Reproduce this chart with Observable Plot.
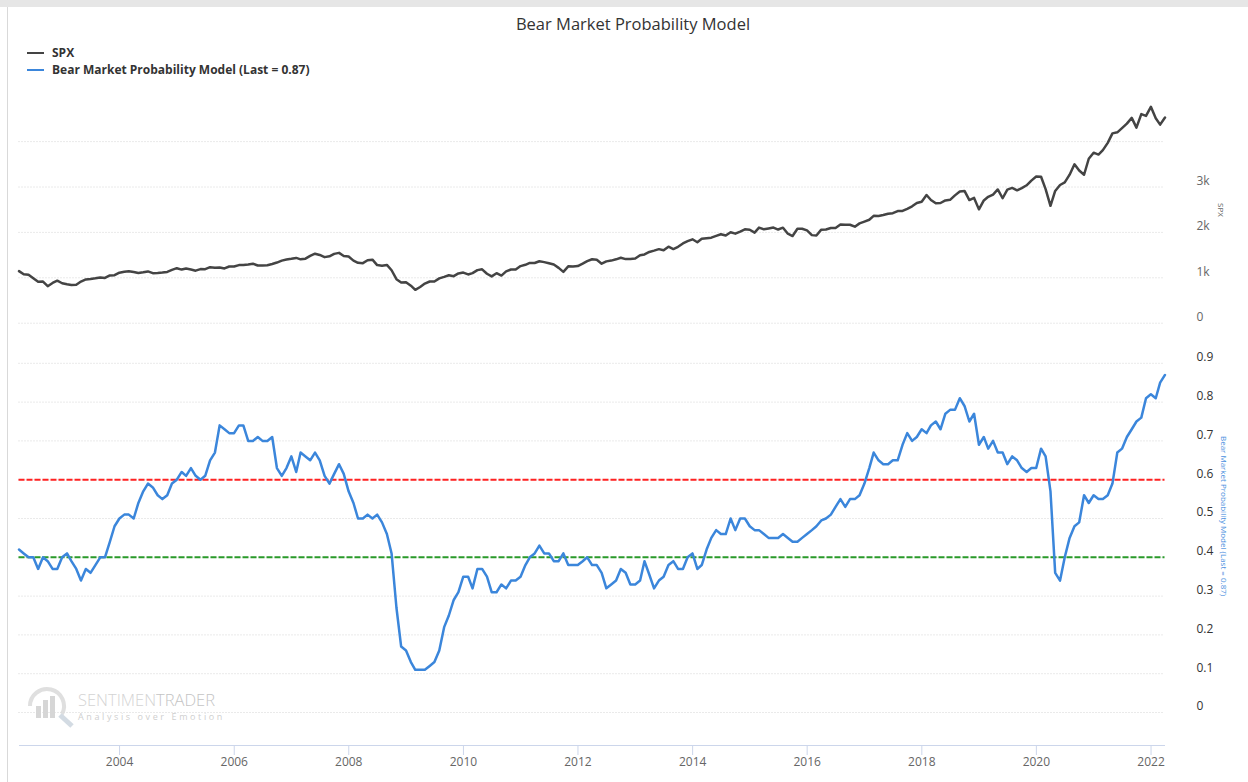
<!DOCTYPE html>
<html>
<head>
<meta charset="utf-8">
<script src="https://cdn.jsdelivr.net/npm/d3@7"></script>
<script src="https://cdn.jsdelivr.net/npm/@observablehq/plot@0.6"></script>
<style>
  html, body { margin: 0; padding: 0; background: #fff; }
  body { width: 1248px; height: 782px; position: relative; overflow: hidden; font-family: "Open Sans", sans-serif; }
  .abs { position: absolute; }
  #bandTop { left: 0; top: 0; width: 1248px; height: 7px; background: #e6e6e6; }
  #bandLeft { left: 7px; top: 7px; width: 1px; height: 775px; background: #d9d9d9; }
  #title { left: 0; top: 12px; width: 1266px; text-align: center; font-size: 16.5px; color: #333; line-height: 24px; }
  .legend { left: 27px; font-size: 12px; font-weight: bold; color: #333; line-height: 16px; display: flex; align-items: center; white-space: nowrap; }
  .legend .sw { width: 17px; height: 2px; margin-right: 8px; }
  .vtitle { font-size: 8px; white-space: nowrap; transform-origin: 0 0; line-height: 10px; }
  #xline { left: 18.5px; top: 745px; width: 1146px; height: 1px; background: #ccd6eb; }
  #wm { left: 22px; top: 684px; }
</style>
</head>
<body>
<div id="bandTop" class="abs"></div>
<div id="bandLeft" class="abs"></div>
<div id="title" class="abs">Bear Market Probability Model</div>
<div class="abs legend" style="top:45px"><span class="sw" style="background:#444"></span>SPX</div>
<div class="abs legend" style="top:62px"><span class="sw" style="background:#3b86db"></span>Bear Market Probability Model (Last = 0.87)</div>
<div id="topChart" class="abs" style="left:0;top:80px"></div>
<div id="botChart" class="abs" style="left:0;top:340px"></div>
<div id="xline" class="abs"></div>
<div class="abs vtitle" style="left:1226px;top:203px;color:#666;transform:rotate(90deg)">SPX</div>
<div class="abs vtitle" style="left:1229px;top:436px;color:#4a8fe0;transform:rotate(90deg)">Bear Market Probability Model (Last = 0.87)</div>
<div id="wm" class="abs">
  <svg width="210" height="46" style="overflow:visible">
    <g fill="none" stroke="#dcdcdc" stroke-width="4" opacity="0.9">
      <path d="M8,22 A17,17 0 1 1 40,30"/>
      <line x1="38" y1="31" x2="50" y2="42" stroke-width="5" stroke="#cfd8e0"/>
    </g>
    <g fill="#d6d6d6">
      <rect x="14" y="22" width="5" height="12"/>
      <rect x="21" y="16" width="5" height="18"/>
      <rect x="28" y="12" width="5" height="22"/>
    </g>
    <text x="56" y="22" font-size="16.5" font-family="Open Sans" fill="#d4d4d4" font-weight="300">SENTIMEN<tspan fill="#c4c4c4">TRADER</tspan></text>
    <text x="56" y="36" font-size="9" font-family="Open Sans" fill="#cfcfcf" letter-spacing="2.6">Analysis over Emotion</text>
  </svg>
</div>
<script>
// ---- data (month-end values, Mar 2002 .. Mar 2022) ----
const firstYear = 2002;
const firstMonth = 3; // March
const spx = [
  1147, 1077, 1067, 990, 912, 916, 815, 886, 936, 880,
  856, 841, 848, 917, 964, 975, 990, 1008, 996, 1051, 1058, 1112,
  1131, 1145, 1126, 1107, 1121, 1141, 1102, 1104, 1115, 1130, 1174, 1212,
  1181, 1204, 1181, 1157, 1192, 1191, 1234, 1220, 1229, 1207, 1249, 1248,
  1280, 1281, 1295, 1311, 1270, 1270, 1277, 1304, 1336, 1378, 1401, 1418,
  1438, 1407, 1421, 1482, 1531, 1503, 1455, 1474, 1527, 1549, 1481, 1468,
  1379, 1331, 1323, 1386, 1400, 1280, 1267, 1283, 1166, 969, 896, 903,
  826, 735, 798, 873, 919, 919, 987, 1021, 1057, 1036, 1096, 1115,
  1074, 1104, 1169, 1187, 1089, 1031, 1102, 1049, 1141, 1183, 1181, 1258,
  1286, 1327, 1326, 1364, 1345, 1321, 1292, 1219, 1131, 1253, 1247, 1258,
  1312, 1366, 1408, 1398, 1310, 1362, 1379, 1407, 1441, 1412, 1416, 1426,
  1498, 1515, 1569, 1598, 1631, 1606, 1686, 1633, 1682, 1757, 1806, 1848,
  1783, 1859, 1872, 1884, 1924, 1960, 1931, 2003, 1972, 2018, 2068, 2059,
  1995, 2105, 2068, 2086, 2107, 2063, 2104, 1972, 1920, 2079, 2080, 2044,
  1940, 1932, 2060, 2065, 2097, 2099, 2174, 2171, 2168, 2126, 2199, 2239,
  2279, 2364, 2363, 2384, 2412, 2423, 2470, 2472, 2519, 2575, 2648, 2674,
  2824, 2714, 2641, 2648, 2705, 2718, 2816, 2902, 2914, 2712, 2760, 2507,
  2704, 2784, 2834, 2946, 2752, 2942, 2980, 2926, 2977, 3038, 3141, 3231,
  3226, 2954, 2585, 2912, 3044, 3100, 3271, 3500, 3363, 3270, 3622, 3756,
  3714, 3811, 3973, 4181, 4204, 4298, 4395, 4523, 4308, 4605, 4567, 4766,
  4516, 4374, 4530
];
const bearModel = [
  0.42, 0.41, 0.40, 0.40, 0.37, 0.40, 0.39, 0.37, 0.37, 0.40,
  0.41, 0.39, 0.37, 0.34, 0.37, 0.36, 0.38, 0.40, 0.40, 0.44,
  0.48, 0.50, 0.51, 0.51, 0.50, 0.54, 0.57, 0.59, 0.58, 0.56,
  0.55, 0.56, 0.59, 0.60, 0.62, 0.61, 0.63, 0.61, 0.60, 0.61,
  0.65, 0.67, 0.74, 0.73, 0.72, 0.72, 0.74, 0.74, 0.70, 0.70,
  0.71, 0.70, 0.70, 0.71, 0.63, 0.61, 0.63, 0.66, 0.62, 0.67,
  0.66, 0.65, 0.67, 0.65, 0.61, 0.59, 0.615, 0.64, 0.615, 0.57,
  0.54, 0.50, 0.50, 0.51, 0.50, 0.51, 0.49, 0.46, 0.41, 0.27,
  0.17, 0.16, 0.13, 0.11, 0.11, 0.11, 0.12, 0.13, 0.16, 0.22,
  0.25, 0.29, 0.31, 0.35, 0.35, 0.32, 0.37, 0.37, 0.35, 0.31,
  0.31, 0.33, 0.32, 0.34, 0.34, 0.35, 0.38, 0.40, 0.41, 0.43,
  0.41, 0.41, 0.39, 0.39, 0.41, 0.38, 0.38, 0.38, 0.39, 0.40,
  0.38, 0.38, 0.36, 0.32, 0.33, 0.34, 0.37, 0.36, 0.33, 0.33,
  0.34, 0.39, 0.355, 0.32, 0.34, 0.35, 0.38, 0.39, 0.37, 0.37,
  0.40, 0.41, 0.37, 0.38, 0.42, 0.45, 0.47, 0.46, 0.46, 0.50,
  0.47, 0.50, 0.50, 0.48, 0.47, 0.47, 0.46, 0.45, 0.45, 0.45,
  0.46, 0.45, 0.44, 0.44, 0.45, 0.46, 0.47, 0.48, 0.495, 0.50,
  0.51, 0.53, 0.55, 0.53, 0.55, 0.55, 0.56, 0.59, 0.63, 0.67,
  0.65, 0.64, 0.64, 0.65, 0.65, 0.69, 0.72, 0.70, 0.71, 0.73,
  0.72, 0.74, 0.75, 0.73, 0.77, 0.78, 0.78, 0.81, 0.79, 0.75,
  0.77, 0.69, 0.71, 0.68, 0.70, 0.67, 0.67, 0.64, 0.66, 0.65,
  0.63, 0.62, 0.63, 0.63, 0.68, 0.66, 0.57, 0.36, 0.34, 0.40,
  0.45, 0.48, 0.49, 0.56, 0.54, 0.56, 0.55, 0.55, 0.56, 0.59,
  0.67, 0.68, 0.71, 0.73, 0.75, 0.76, 0.81, 0.82, 0.81, 0.85,
  0.87
];
const upperThreshold = 0.6;
const lowerThreshold = 0.4;
const spxGridTicks = [0, 1000, 2000, 3000, 4000];
const spxLabelTicks = [0, 1000, 2000, 3000];
const probTicks = [0, 0.1, 0.2, 0.3, 0.4, 0.5, 0.6, 0.7, 0.8, 0.9];
const yearTicks = [2004, 2006, 2008, 2010, 2012, 2014, 2016, 2018, 2020, 2022];

// ---- build tables ----
const monthEnd = i => new Date(Date.UTC(firstYear, firstMonth + i, 0));
const spxData = spx.map((v, i) => ({date: monthEnd(i), value: v}));
const bearData = bearModel.map((v, i) => ({date: monthEnd(i), value: v}));
const xDomain = [monthEnd(0), monthEnd(spx.length - 1)];
const xRange = [18.5, 1164.5];
const W = 1248;
const baseStyle = {fontFamily: "Open Sans", fontSize: "12px", background: "transparent", overflow: "visible"};
const grid = {stroke: "#d4d4d4", strokeOpacity: 1, strokeDasharray: "1,2", strokeWidth: 1};

const topPlot = Plot.plot({
  width: W, height: 260,
  marginLeft: xRange[0], marginRight: W - xRange[1], marginTop: 0, marginBottom: 0,
  style: baseStyle,
  x: {type: "utc", domain: xDomain, range: xRange, axis: null},
  y: {domain: [0, 5000], range: [242.7, 15.7], axis: null},
  marks: [
    Plot.gridY(spxGridTicks, grid),
    Plot.axisY(spxLabelTicks, {anchor: "right", tickSize: 0, tickPadding: 31.5, dy: -6, label: null,
      tickFormat: d => d === 0 ? "0" : (d / 1000) + "k", fill: "#666", fontSize: 12}),
    Plot.line(spxData, {x: "date", y: "value", stroke: "#444", strokeWidth: 2.5, strokeLinejoin: "round"})
  ]
});
document.getElementById("topChart").appendChild(topPlot);

const botPlot = Plot.plot({
  width: W, height: 442,
  marginLeft: xRange[0], marginRight: W - xRange[1], marginTop: 0, marginBottom: 37,
  style: baseStyle,
  x: {type: "utc", domain: xDomain, range: xRange},
  y: {domain: [0, 0.9], range: [372, 22.8], axis: null},
  marks: [
    Plot.gridY(probTicks, grid),
    Plot.ruleY([upperThreshold], {stroke: "#f22", strokeWidth: 2, strokeDasharray: "6,2"}),
    Plot.ruleY([lowerThreshold], {stroke: "#2a9a2a", strokeWidth: 2, strokeDasharray: "6,2"}),
    Plot.line(bearData, {x: "date", y: "value", stroke: "#3b86db", strokeWidth: 2.5, strokeLinejoin: "round"}),
    Plot.axisY(probTicks, {anchor: "right", tickSize: 0, tickPadding: 31.5, dy: -6, label: null,
      tickFormat: d => d === 0 ? "0" : d3.format(".1f")(d), fill: "#333", fontSize: 12}),
    Plot.axisX(yearTicks.map(y => new Date(Date.UTC(y, 0, 1))), {anchor: "bottom", tickSize: 10, tickPadding: 2,
      stroke: "#ccd6eb", fill: "#666", fontSize: 12, tickFormat: d3.utcFormat("%Y"), label: null})
  ]
});
document.getElementById("botChart").appendChild(botPlot);
</script>
</body>
</html>
